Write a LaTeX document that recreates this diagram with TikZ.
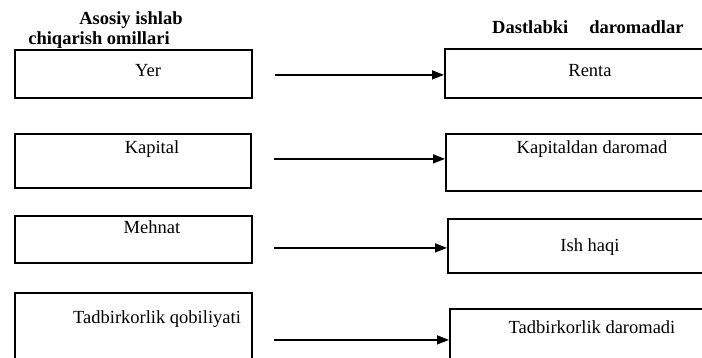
\documentclass[tikz,border=0pt]{standalone}
\usepackage{fontspec}
\setmainfont{Liberation Serif}
\usetikzlibrary{arrows.meta,calc}
\begin{document}
\begin{tikzpicture}[x=1pt,y=-1pt,
  box/.style={draw,line width=1.8pt,rectangle,inner sep=0pt,anchor=north west},
  lbl/.style={font=\fontsize{18.5}{22}\selectfont,anchor=base,inner sep=0pt},
  head/.style={font=\fontsize{18.5}{22}\selectfont\bfseries,anchor=base,inner sep=0pt},
  arr/.style={line width=1.5pt,-{Triangle[length=12pt,width=9pt]}}]
\useasboundingbox (0,0) rectangle (702,357);
\clip (0,0) rectangle (702,357);
% headings
\node[head] (h1a) at (131,24) {Asosiy ishlab};
\node[head] (h1b) at (99,44) {chiqarish omillari};
\node[head,anchor=base west] (h2) at (492,33) {Dastlabki\hspace{21pt}daromadlar};
% left boxes
\node[box,minimum width=237pt,minimum height=48pt] (yer) at (14,49) {};
\node[box,minimum width=236pt,minimum height=54pt] (kap) at (14,133) {};
\node[box,minimum width=237pt,minimum height=47pt] (meh) at (14,215) {};
\node[box,minimum width=237pt,minimum height=90pt] (tq) at (14,292) {};
% right boxes
\node[box,minimum width=270pt,minimum height=49pt] (renta) at (444,48) {};
\node[box,minimum width=270pt,minimum height=57pt] (kapd) at (445,133) {};
\node[box,minimum width=270pt,minimum height=54pt] (ish) at (447,218) {};
\node[box,minimum width=270pt,minimum height=62pt] (tdar) at (449,308) {};
% texts
\node[lbl] (t1) at (148,76) {Yer};
\node[lbl] (t2) at (152,153) {Kapital};
\node[lbl] (t3) at (152,233) {Mehnat};
\node[lbl] (t4) at (157,323) {Tadbirkorlik qobiliyati};
\node[lbl] (t5) at (590,76) {Renta};
\node[lbl] (t6) at (592,153) {Kapitaldan daromad};
\node[lbl] (t7) at (590,251) {Ish haqi};
\node[lbl] (t8) at (592,333) {Tadbirkorlik daromadi};
% arrows
\draw[arr] ($([yshift=-1.5pt]renta.west -| yer.east)+(22,0)$) -- ([yshift=-1.5pt]renta.west);
\draw[arr] ($([yshift=3.5pt]kapd.west -| kap.east)+(22,0)$) -- ([yshift=3.5pt]kapd.west);
\draw[arr] ($([yshift=-2pt]ish.west -| meh.east)+(21,0)$) -- ([yshift=-2pt]ish.west);
\draw[arr] ($(tdar.west -| tq.east)+(21,0)$) -- (tdar.west);
\end{tikzpicture}
\end{document}
